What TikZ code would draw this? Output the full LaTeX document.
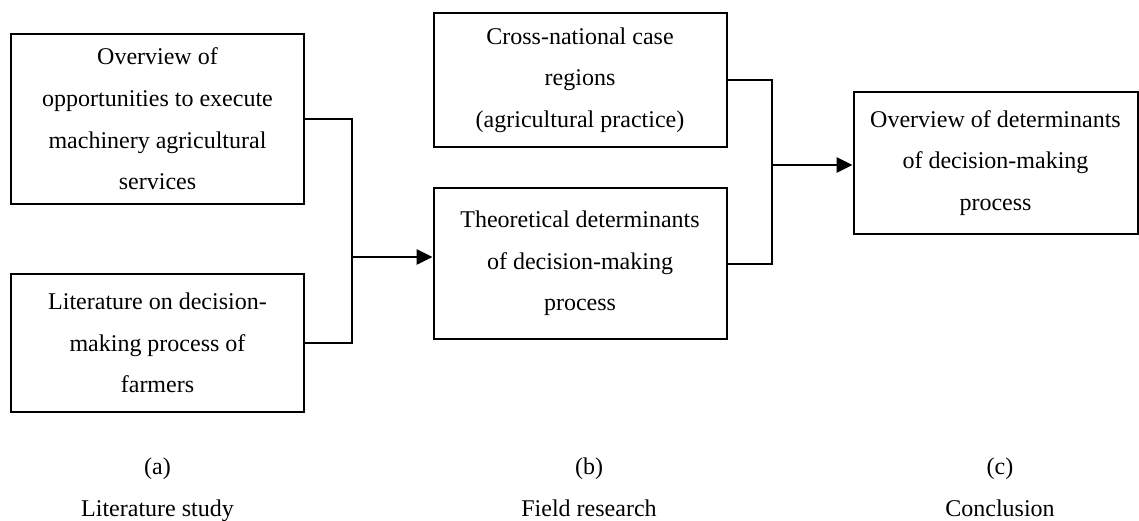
\documentclass[tikz,border=0pt]{standalone}
\usepackage{fontspec}
\setmainfont{Liberation Serif}
\usepackage{tikz}
\usetikzlibrary{arrows.meta,positioning}
\tikzset{
  stage/.style={draw, line width=2pt, align=center, inner sep=0pt,
    font=\fontsize{24}{41.7}\selectfont},
  tag/.style={font=\fontsize{24}{29}\selectfont, text height=17pt, text depth=6pt},
  link/.style={line width=2pt},
  feed/.style={line width=2.6pt, -{Triangle[length=16pt, width=15pt]}}
}

\begin{document}
\begin{tikzpicture}[x=1pt, y=-1pt]

  \useasboundingbox (0,0) rectangle (1139,521);

  \newcommand\BW{293pt};

  % literature study
  \node[stage, minimum width=\BW, minimum height=170pt] (A1) at (157.5,119)
    {Overview of\\opportunities to execute\\machinery agricultural\\services};
  \node[stage, minimum width=\BW, minimum height=138pt] (A2) at (157.5,343)
    {Literature on decision-\\making process of\\farmers};

  % field research
  \node[stage, minimum width=\BW, minimum height=134pt] (B1) at (580,80)
    {Cross-national case\\regions\\(agricultural practice)};
  \node[stage, minimum width=\BW, minimum height=151pt] (B2) at (580,263.5)
    {Theoretical determinants\\of decision-making\\process};

  % conclusion
  \node[stage, minimum width=284pt, minimum height=142pt] (C) at (995.5,163)
    {Overview of determinants\\of decision-making\\process};

  \coordinate (jA) at (352,257);
  \coordinate (jB) at (772,165);

  \draw[link] (A1.east) -| (jA) |- (A2.east); %% A1,A2 -> join
  \draw[feed] (jA) -- (jA -| B2.west);        %% join -> B2

  \draw[link] (B1.east) -| (jB) |- (B2.east); %% B1,B2 -> join
  \draw[feed] (jB) -- (jB -| C.west);         %% join -> C

  % column labels
  \node[tag] (la) at (157.5,469) {(a)};
  \node[tag] (lb) at (589,469) {(b)};
  \node[tag] (lc) at (1000,469) {(c)};
  \node[tag] (na) at (157.5,511) {Literature study};
  \node[tag] (nb) at (589,511) {Field research};
  \node[tag] (nc) at (1000,511) {Conclusion};

\end{tikzpicture}
\end{document}
